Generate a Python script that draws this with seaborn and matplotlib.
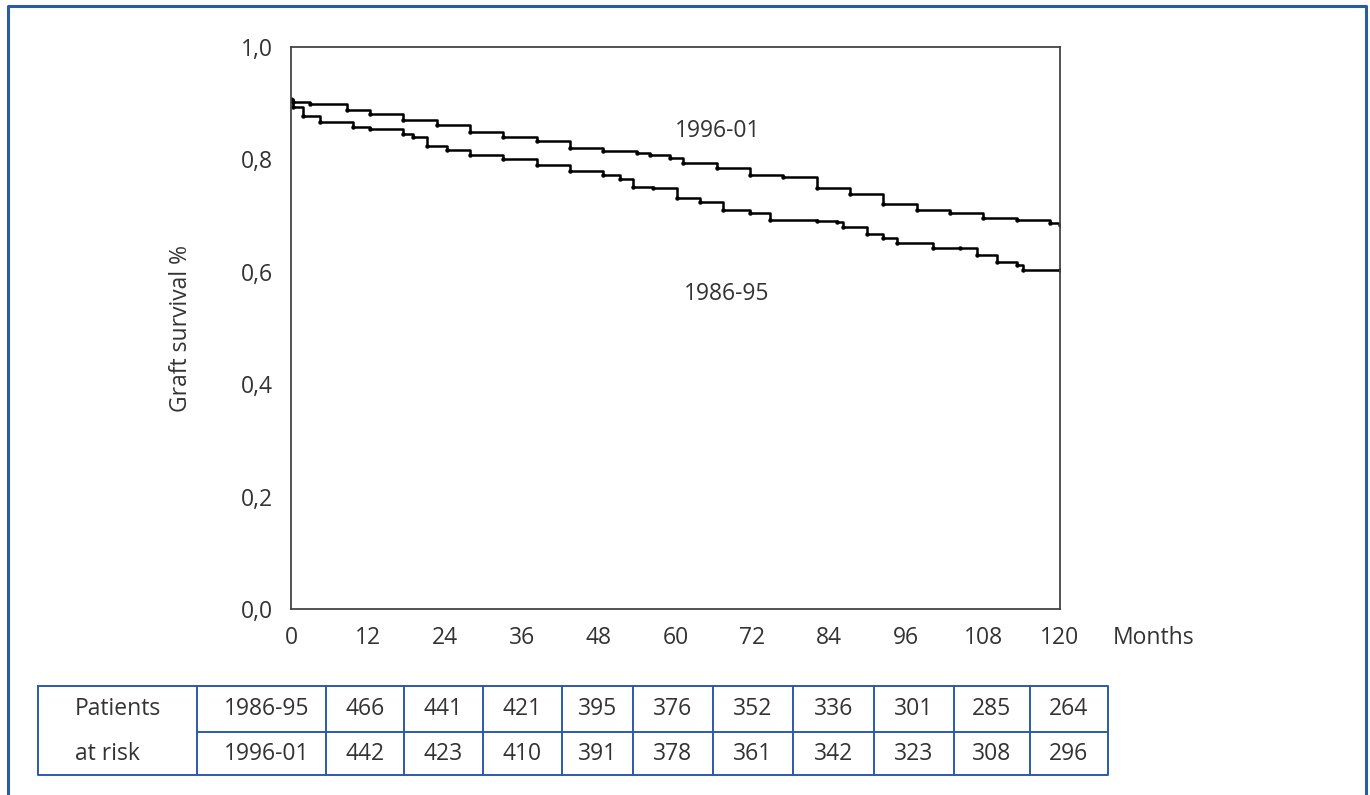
import matplotlib
matplotlib.use("Agg")
import matplotlib.pyplot as plt
import pandas as pd
import seaborn as sns

# ------------------- data ------------------- #
months_9601 = [0, 0.3, 3, 8.7, 12.3, 17.5, 22.8, 27.9, 33.1, 38.4, 43.5, 48.7,
               54.0, 56.0, 59.1, 61.2, 66.5, 71.6, 76.8, 82.1, 87.2, 92.4,
               97.7, 102.8, 108.0, 113.3, 118.4, 120]
surv_9601 = [0.907, 0.902, 0.898, 0.888, 0.880, 0.870, 0.861, 0.849, 0.839,
             0.833, 0.820, 0.815, 0.811, 0.808, 0.802, 0.793, 0.784, 0.772,
             0.768, 0.750, 0.738, 0.721, 0.710, 0.704, 0.695, 0.693, 0.686,
             0.684]

months_8695 = [0, 0.3, 1.9, 4.5, 9.7, 12.3, 17.5, 19.0, 21.2, 24.3, 27.9, 33.1,
               38.4, 43.5, 48.7, 51.3, 53.4, 56.5, 60.2, 63.8, 67.4, 71.6,
               74.7, 82.1, 85.2, 86.1, 89.9, 92.4, 94.6, 100.2, 104.4, 107.1,
               110.2, 113.3, 114.2, 120]
surv_8695 = [0.905, 0.893, 0.877, 0.867, 0.858, 0.854, 0.845, 0.840, 0.823,
             0.817, 0.808, 0.801, 0.790, 0.780, 0.772, 0.766, 0.751, 0.750,
             0.731, 0.725, 0.710, 0.704, 0.692, 0.691, 0.689, 0.680, 0.668,
             0.660, 0.651, 0.643, 0.642, 0.630, 0.618, 0.612, 0.604, 0.603]

x_ticks = [0, 12, 24, 36, 48, 60, 72, 84, 96, 108, 120]
y_ticks = [0.0, 0.2, 0.4, 0.6, 0.8, 1.0]

risk_groups = ["1986-95", "1996-01"]
risk_8695 = [466, 441, 421, 395, 376, 352, 336, 301, 285, 264]
risk_9601 = [442, 423, 410, 391, 378, 361, 342, 323, 308, 296]

df = pd.concat([
    pd.DataFrame({"month": months_8695, "surv": surv_8695, "group": "1986-95"}),
    pd.DataFrame({"month": months_9601, "surv": surv_9601, "group": "1996-01"}),
])

# ------------------------------ style ------------------------------ #
sns.set_style("white")
plt.rcParams["font.family"] = ["Open Sans", "DejaVu Sans"]
TXT = "#333333"
BLUE = "#2a5ba8"

W, H = 1370, 795
fig = plt.figure(figsize=(13.7, 7.95), dpi=100)
ax = fig.add_axes([291 / W, 1 - 609 / H, (1060 - 291) / W, (609 - 47) / H])

# ------------------------- survival curves ------------------------- #
for grp in ["1986-95", "1996-01"]:
    sns.lineplot(data=df[df.group == grp], x="month", y="surv",
                 estimator=None, sort=False, drawstyle="steps-post",
                 color="black", linewidth=1.8, marker="o", markersize=3.2,
                 markeredgewidth=0, ax=ax)

ax.set_xlim(0, 120)
ax.set_ylim(0, 1.0)
ax.set_xticks(x_ticks)
ax.set_yticks(y_ticks)
ax.set_yticklabels([f"{v:.1f}".replace(".", ",") for v in y_ticks])
ax.tick_params(axis="both", direction="out", length=7, width=1.2,
               color="#444444", labelsize=16.5, labelcolor=TXT)
ax.tick_params(axis="x", pad=5)
ax.tick_params(axis="y", pad=6)
for sp in ax.spines.values():
    sp.set_color("#444444")
    sp.set_linewidth(1.3)

ax.set_xlabel("")
ax.set_ylabel("Graft survival %", fontsize=16.5, color=TXT)
ax.yaxis.set_label_coords(-0.1274, 0.5)
ax.text(1.069, -0.052, "Months", transform=ax.transAxes, fontsize=16.5,
        color=TXT, ha="left", va="center")

ax.text(66.6, 0.851, "1996-01", fontsize=16.5, color=TXT, ha="center", va="center")
ax.text(68.0, 0.561, "1986-95", fontsize=16.5, color=TXT, ha="center", va="center")

# ------------------------ patients at risk ------------------------- #
tab = fig.add_axes([0, 0, 1, 1], facecolor="none")
tab.set_xlim(0, W)
tab.set_ylim(H, 0)
tab.axis("off")

col_edges = [38, 197, 326, 404, 483, 562, 633, 713, 793, 874, 954, 1030, 1108]
top, mid, bot = 686, 732, 775
kw = dict(color=BLUE, linewidth=1.4)
tab.plot([38, 1108, 1108, 38, 38], [top, top, bot, bot, top], **kw)
tab.plot([197, 1108], [mid, mid], **kw)
for xe in col_edges[1:-1]:
    tab.plot([xe, xe], [top, bot], **kw)

row_y = [(top + mid) / 2, (mid + bot) / 2]
tab.text(75, row_y[0], "Patients", fontsize=16.5, color=TXT, ha="left", va="center")
tab.text(75, row_y[1], "at risk", fontsize=16.5, color=TXT, ha="left", va="center")
for r, (grp, vals) in enumerate(zip(risk_groups, [risk_8695, risk_9601])):
    cx = (col_edges[1] + col_edges[2]) / 2 + 5
    tab.text(cx, row_y[r], grp, fontsize=16.5, color=TXT, ha="center", va="center")
    for i, v in enumerate(vals):
        cx = (col_edges[i + 2] + col_edges[i + 3]) / 2
        tab.text(cx, row_y[r], str(v), fontsize=16.5, color=TXT,
                 ha="center", va="center")

# outer frame
tab.plot([8, 8, 1366, 1366], [H, 6, 6, H], color=BLUE, linewidth=2.2)

fig.savefig("out.png", dpi=100)
